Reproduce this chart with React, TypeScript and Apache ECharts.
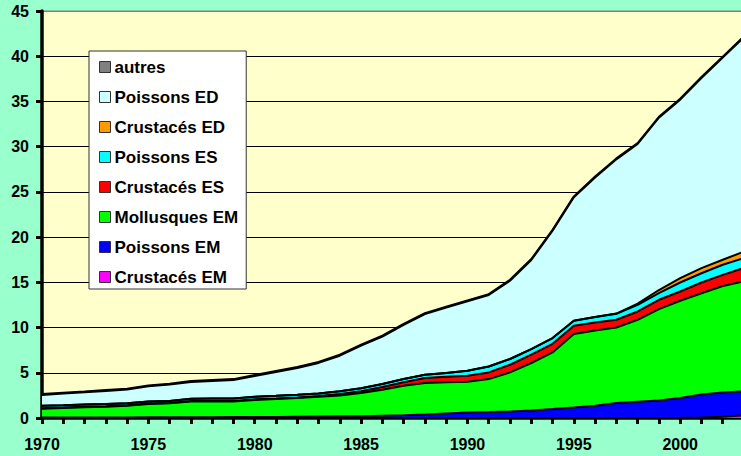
import React, { useEffect, useRef } from "react";
import * as echarts from "echarts";

const years = [
  "1970","1971","1972","1973","1974","1975","1976","1977","1978","1979",
  "1980","1981","1982","1983","1984","1985","1986","1987","1988","1989",
  "1990","1991","1992","1993","1994","1995","1996","1997","1998","1999",
  "2000","2001","2002","2003",
];

const crustacesEM = [
  0,0,0,0,0,0,0,0,0,0,
  0,0,0,0,0,0,0,0,0,0,
  0,0,0,0,0,0,0,0,0,0,
  0.02,0.05,0.15,0.3,
];
const poissonsEM = [
  0.05,0.05,0.05,0.05,0.06,0.07,0.08,0.08,0.09,0.1,
  0.1,0.12,0.14,0.16,0.18,0.2,0.25,0.3,0.38,0.5,
  0.6,0.65,0.72,0.84,1.0,1.17,1.35,1.65,1.8,1.94,
  2.18,2.55,2.68,2.65,
];
const mollusquesEM = [
  0.98,1.05,1.15,1.2,1.3,1.48,1.54,1.75,1.74,1.73,
  1.9,1.98,2.06,2.19,2.32,2.56,2.88,3.27,3.49,3.44,
  3.4,3.65,4.32,5.24,6.25,8.11,8.33,8.35,9.06,10.1,
  10.76,11.2,11.77,12.15,
];
const crustacesES = [
  0.05,0.05,0.05,0.05,0.05,0.05,0.05,0.05,0.05,0.06,
  0.06,0.06,0.07,0.08,0.15,0.19,0.3,0.38,0.55,0.61,
  0.67,0.74,0.85,0.92,0.95,0.92,0.88,0.86,0.92,1.03,
  1.03,1.18,1.23,1.5,
];
const poissonsES = [
  0.27,0.27,0.25,0.25,0.21,0.22,0.21,0.24,0.27,0.26,
  0.29,0.29,0.31,0.29,0.3,0.35,0.33,0.36,0.36,0.42,
  0.56,0.66,0.63,0.62,0.64,0.55,0.6,0.66,0.74,0.74,
  0.99,1.02,1.11,1.08,
];
const crustacesED = [
  0,0,0,0,0,0,0,0,0,0,
  0,0,0,0,0,0,0,0,0,0,
  0,0,0,0,0,0,0,0.03,0.13,0.34,
  0.49,0.57,0.56,0.72,
];
const poissonsED = [
  1.2,1.28,1.34,1.44,1.52,1.68,1.81,1.87,1.95,2.05,
  2.3,2.64,2.95,3.37,3.94,4.7,5.24,5.99,6.72,7.23,
  7.67,7.9,8.66,9.85,11.86,13.65,15.44,17.05,17.65,19.05,
  19.73,21.03,22.35,23.7,
];
const autres = [
  0.1,0.1,0.1,0.1,0.1,0.1,0.1,0.1,0.1,0.1,
  0.1,0.1,0.1,0.1,0.1,0.1,0.1,0.1,0.1,0.1,
  0.1,0.1,0.1,0.1,0.1,0.1,0.1,0.1,0.1,0.1,
  0.1,0.1,0.1,0.1,
];

const layers = [
  { name: "Crustacés EM", color: "#FF00FF", data: crustacesEM },
  { name: "Poissons EM", color: "#0000FF", data: poissonsEM },
  { name: "Mollusques EM", color: "#00FF00", data: mollusquesEM },
  { name: "Crustacés ES", color: "#FF0000", data: crustacesES },
  { name: "Poissons ES", color: "#00FFFF", data: poissonsES },
  { name: "Crustacés ED", color: "#FF9900", data: crustacesED },
  { name: "Poissons ED", color: "#CCFFFF", data: poissonsED },
  { name: "autres", color: "#808080", data: autres },
];

const FONT = "'Liberation Sans', Arial, Helvetica, sans-serif";

export default function App() {
  const ref = useRef<HTMLDivElement>(null);
  useEffect(() => {
    if (!ref.current) return;
    const chart = echarts.init(ref.current, undefined, { renderer: "svg" });
    const splitColors = ["#000","#000","#000","#000","#000","#000","#000","#000","#000","#808080"];
    chart.setOption({
      animation: false,
      backgroundColor: "#99FFCC",
      grid: {
        left: 42,
        top: 11,
        right: 2,
        bottom: 38,
        show: true,
        backgroundColor: "#FFFFCC",
        borderColor: "#808080",
        borderWidth: 1,
      },
      legend: {
        orient: "vertical",
        left: 89,
        top: 51,
        padding: [6, 8, 2, 10],
        itemGap: 10,
        itemWidth: 11,
        itemHeight: 11,
        icon: "rect",
        selectedMode: false,
        backgroundColor: "#FFFFFF",
        borderColor: "#333333",
        borderWidth: 1,
        itemStyle: { borderColor: "#333333", borderWidth: 1 },
        textStyle: {
          fontFamily: FONT,
          fontWeight: "bold",
          fontSize: 17,
          color: "#000",
          lineHeight: 20,
          padding: [0, 0, 0, -1],
        },
        data: layers.map((l) => l.name).reverse(),
      },
      xAxis: {
        type: "category",
        boundaryGap: false,
        data: years,
        axisLine: { show: true, lineStyle: { color: "#000", width: 3.5 } },
        axisTick: {
          show: true,
          interval: 0,
          length: 6,
          lineStyle: { color: "#000", width: 3 },
        },
        axisLabel: {
          interval: (i: number) => i % 5 === 0,
          fontFamily: FONT,
          fontWeight: "bold",
          fontSize: 16,
          color: "#000",
          margin: 18,
        },
        splitLine: { show: false },
      },
      yAxis: {
        type: "value",
        min: 0,
        max: 45,
        interval: 5,
        axisLine: { show: true, lineStyle: { color: "#000", width: 3.5 } },
        axisTick: { show: true, length: 6, lineStyle: { color: "#000", width: 3 } },
        axisLabel: {
          fontFamily: FONT,
          fontWeight: "bold",
          fontSize: 16,
          color: "#000",
          margin: 13,
        },
        splitLine: { show: true, lineStyle: { color: splitColors, width: 1 } },
      },
      series: layers.map((l) => ({
        name: l.name,
        type: "line",
        stack: "total",
        data: l.data,
        symbol: "none",
        showSymbol: false,
        smooth: false,
        itemStyle: { color: l.color },
        lineStyle: { color: "#000", width: 2 },
        areaStyle: { color: l.color, opacity: 1 },
        emphasis: { disabled: true },
      })),
    });
    return () => chart.dispose();
  }, []);
  return (
    <div
      style={{
        position: "fixed",
        left: 0,
        top: 0,
        width: 741,
        height: 456,
        overflow: "hidden",
        background: "#99FFCC",
      }}
    >
      <div ref={ref} style={{ width: 746, height: 456 }} />
    </div>
  );
}
